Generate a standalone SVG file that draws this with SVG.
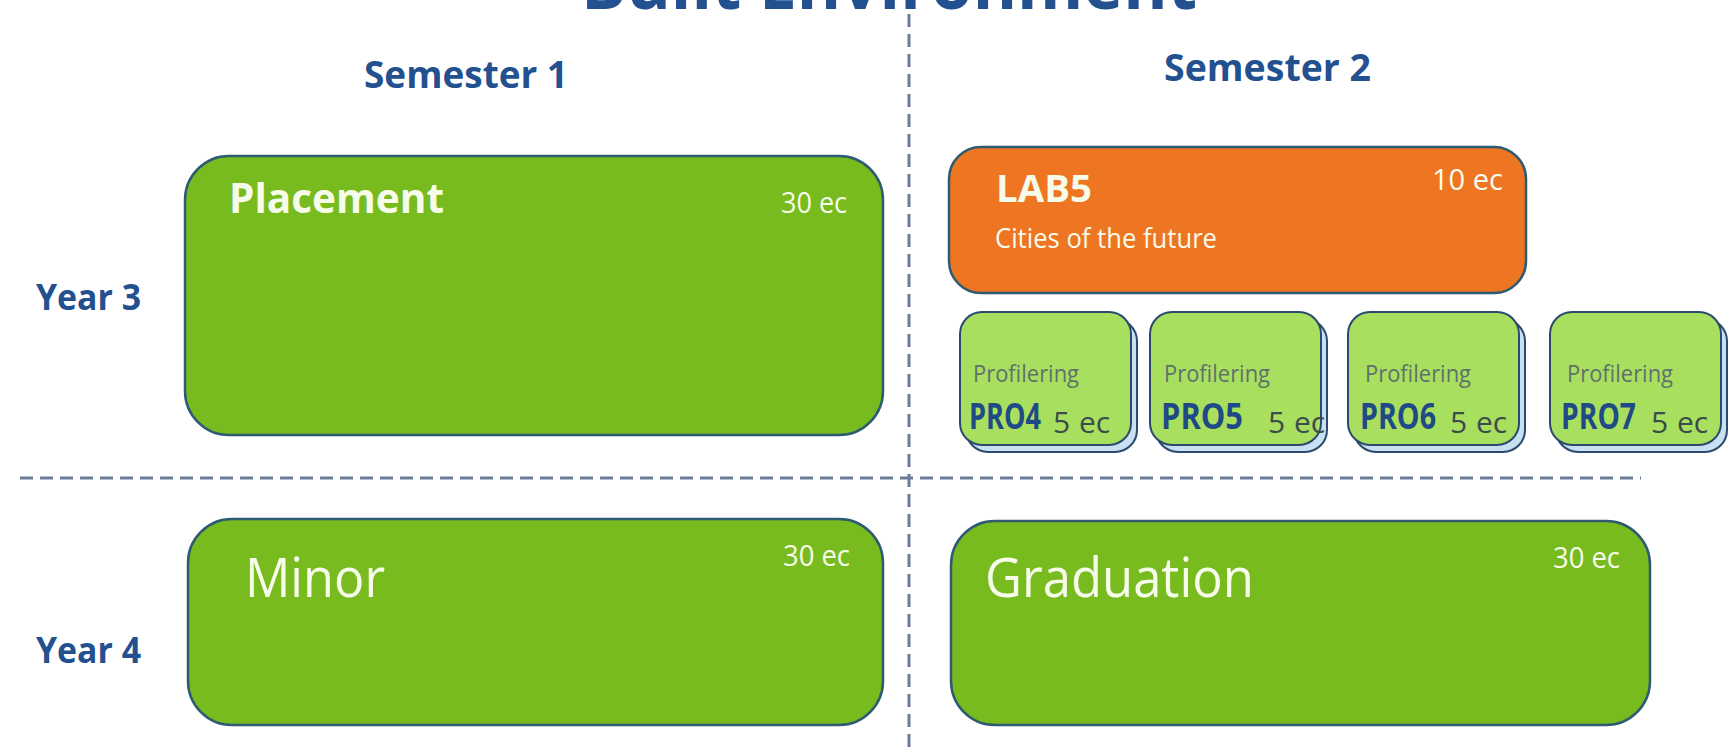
<svg xmlns="http://www.w3.org/2000/svg" width="1730" height="747" viewBox="0 0 1730 747">
  <style>
    text { font-family: "Open Sans", "Liberation Sans", sans-serif; }
    .hdr { font-weight: 700; fill: #23508f; }
    .box { stroke: #2e5a72; stroke-width: 2.5; }
    .green { fill: #78bb1f; }
    .orange { fill: #ee7623; }
    .card { fill: #a9df5e; stroke: #2b4a6e; stroke-width: 2; }
    .cardback { fill: #c9e0f2; stroke: #2b4a6e; stroke-width: 2; }
    .wt { fill: #f7fbe9; }
    .ec { font-size: 29px; }
    .prof { font-size: 23px; fill: #5f716c; }
    .code { font-size: 35px; font-weight: 700; fill: #1f4a86; }
    .cec { font-size: 30px; fill: #3c4b4d; word-spacing: 1px; }
    .grid { stroke: #6b7c99; stroke-width: 3; stroke-dasharray: 13 7; fill: none; }
  </style>

  <rect width="1730" height="747" fill="#ffffff"/>

  <!-- page title, running off the top edge -->
  <text class="hdr" x="889" y="9" font-size="70" text-anchor="middle" textLength="616" lengthAdjust="spacingAndGlyphs">Built Environment</text>

  <!-- grid dividers -->
  <g id="connectors">
    <line class="grid" x1="909" y1="14" x2="909" y2="747"/>
    <line class="grid" x1="20" y1="478" x2="1641" y2="478"/>
  </g>

  <!-- row and column headings -->
  <g id="headings">
    <text class="hdr" x="364" y="88" font-size="38" textLength="204" lengthAdjust="spacingAndGlyphs">Semester 1</text>
    <text class="hdr" x="1164" y="81" font-size="38" textLength="207" lengthAdjust="spacingAndGlyphs">Semester 2</text>
    <text class="hdr" x="36" y="310" font-size="36" textLength="105" lengthAdjust="spacingAndGlyphs">Year 3</text>
    <text class="hdr" x="36" y="663" font-size="36" textLength="105" lengthAdjust="spacingAndGlyphs">Year 4</text>
  </g>

  <g id="placement">
    <rect class="box green" x="185" y="156" width="698" height="279" rx="44"/>
    <text class="wt" x="229" y="213" font-size="42" font-weight="700" textLength="215" lengthAdjust="spacingAndGlyphs">Placement</text>
    <text class="wt ec" x="781" y="213" textLength="66" lengthAdjust="spacingAndGlyphs">30 ec</text>
  </g>

  <g id="lab5">
    <rect class="box orange" x="949" y="147" width="577" height="146" rx="32"/>
    <text class="wt" x="996" y="202" font-size="38" font-weight="700" textLength="96" lengthAdjust="spacingAndGlyphs">LAB5</text>
    <text class="wt" x="995" y="248" font-size="27" textLength="222" lengthAdjust="spacingAndGlyphs">Cities of the future</text>
    <text class="wt ec" x="1432" y="190" textLength="71" lengthAdjust="spacingAndGlyphs">10 ec</text>
  </g>

  <g id="pro4">
    <rect class="cardback" x="966" y="319" width="171" height="133" rx="22"/>
    <rect class="card" x="960" y="312" width="171" height="133" rx="22"/>
    <text class="prof" x="973" y="382" textLength="106" lengthAdjust="spacingAndGlyphs">Profilering</text>
    <text class="code" x="969" y="429" font-size="31" textLength="72" lengthAdjust="spacingAndGlyphs">PRO4</text>
    <text class="cec" x="1053" y="433">5 ec</text>
  </g>

  <g id="pro5">
    <rect class="cardback" x="1156" y="319" width="171" height="133" rx="22"/>
    <rect class="card" x="1150" y="312" width="171" height="133" rx="22"/>
    <text class="prof" x="1164" y="382" textLength="106" lengthAdjust="spacingAndGlyphs">Profilering</text>
    <text class="code" x="1161" y="429" textLength="82" lengthAdjust="spacingAndGlyphs">PRO5</text>
    <text class="cec" x="1268" y="433">5 ec</text>
  </g>

  <g id="pro6">
    <rect class="cardback" x="1354" y="319" width="171" height="133" rx="22"/>
    <rect class="card" x="1348" y="312" width="171" height="133" rx="22"/>
    <text class="prof" x="1365" y="382" textLength="106" lengthAdjust="spacingAndGlyphs">Profilering</text>
    <text class="code" x="1360" y="429" textLength="76" lengthAdjust="spacingAndGlyphs">PRO6</text>
    <text class="cec" x="1450" y="433">5 ec</text>
  </g>

  <g id="pro7">
    <rect class="cardback" x="1556" y="319" width="171" height="133" rx="22"/>
    <rect class="card" x="1550" y="312" width="171" height="133" rx="22"/>
    <text class="prof" x="1567" y="382" textLength="106" lengthAdjust="spacingAndGlyphs">Profilering</text>
    <text class="code" x="1561" y="429" textLength="75" lengthAdjust="spacingAndGlyphs">PRO7</text>
    <text class="cec" x="1651" y="433">5 ec</text>
  </g>

  <g id="minor">
    <rect class="box green" x="188" y="519" width="695" height="206" rx="44"/>
    <text class="wt" x="245" y="597" font-size="54" textLength="140" lengthAdjust="spacingAndGlyphs">Minor</text>
    <text class="wt ec" x="783" y="566" textLength="67" lengthAdjust="spacingAndGlyphs">30 ec</text>
  </g>

  <g id="graduation">
    <rect class="box green" x="951" y="521" width="699" height="204" rx="44"/>
    <text class="wt" x="985" y="597" font-size="54" textLength="269" lengthAdjust="spacingAndGlyphs">Graduation</text>
    <text class="wt ec" x="1553" y="568" textLength="67" lengthAdjust="spacingAndGlyphs">30 ec</text>
  </g>
</svg>
